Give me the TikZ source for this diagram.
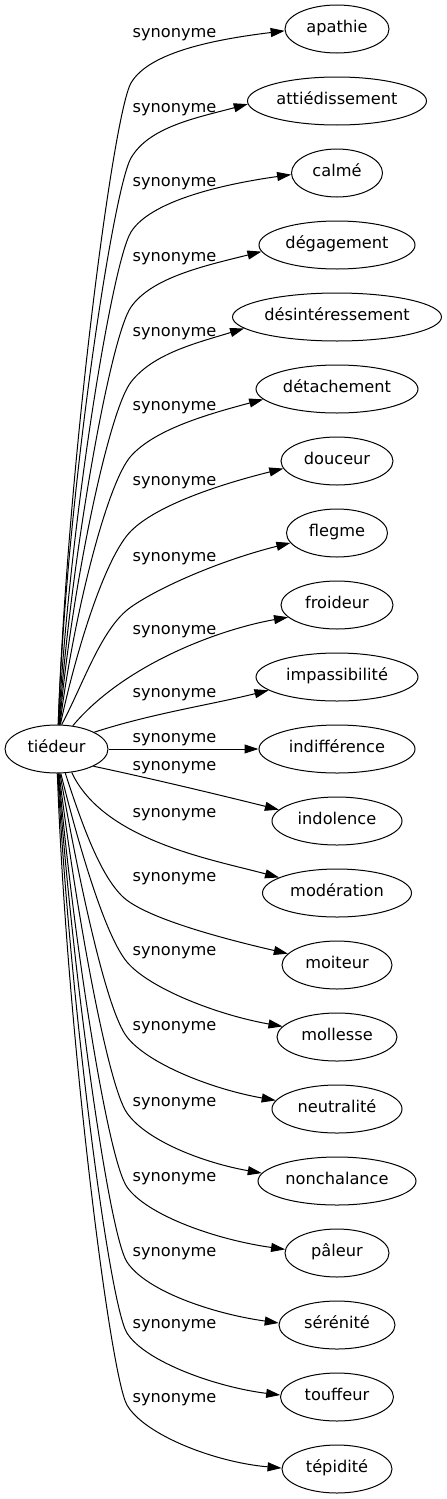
\documentclass[tikz,border=0pt]{standalone}
\usepackage{fontspec}
\setmainfont{DejaVu Sans}
\usetikzlibrary{arrows.meta,shapes.geometric}
\tikzset{
  word/.style={ellipse, draw, line width=1pt, inner sep=0pt, minimum height=48pt,
    font=\fontsize{16.2}{19}\selectfont, text height=0.9em, text depth=0.16em},
  lab/.style={font=\fontsize{16.2}{19}\selectfont, inner sep=0pt, anchor=base},
  edge/.style={line width=1pt, -{Triangle[length=14pt,width=9pt]}}
}
% #1 start anchor, #2 start dir, #3 label y, #4 knee dir, #5 target, #6 end anchor, #7 arrival dir, #8 end handle
\newcommand\UpEdge[8]{%
  \pgfmathsetmacro\PyA{-(#3+50)}%
  \pgfmathsetmacro\dA{0.4*(674-#3)}%
  \draw[edge] (t.#1) .. controls +(#2:\dA) and +(#4+180:36) .. (131,\PyA)
     .. controls +(#4:36) and +(#7+180:#8) .. (#5.#6);}
% #3 knee y (pixel), knee x fixed
\newcommand\DnEdge[8]{%
  \pgfmathsetmacro\PyA{-#3}%
  \pgfmathsetmacro\dA{0.4*(#3-773)}%
  \draw[edge] (t.#1) .. controls +(#2:\dA) and +(#4+180:34) .. (127,\PyA)
     .. controls +(#4:34) and +(#7+180:#8) .. (#5.#6);}
\begin{document}
\begin{tikzpicture}[x=1pt,y=1pt]
\useasboundingbox (0,0) rectangle (447,-1499);
\node[word, minimum width=103pt] (t) at (56.5,-749) {tiédeur};
\node[word, minimum width=104pt] (apa) at (337,-29) {apathie};
\node[word, minimum width=179pt] (att) at (337,-101) {attiédissement};
\node[word, minimum width=91pt] (cal) at (337,-173) {calmé};
\node[word, minimum width=156pt] (deg) at (337,-245) {dégagement};
\node[word, minimum width=209pt] (des) at (337,-317) {désintéressement};
\node[word, minimum width=162pt] (det) at (337,-389) {détachement};
\node[word, minimum width=112pt] (dou) at (337,-461) {douceur};
\node[word, minimum width=101pt] (fle) at (337,-533) {flegme};
\node[word, minimum width=112pt] (fro) at (337,-605) {froideur};
\node[word, minimum width=162pt] (imp) at (337,-677) {impassibilité};
\node[word, minimum width=156pt] (ind) at (337,-749) {indifférence};
\node[word, minimum width=130pt] (indo) at (337,-821) {indolence};
\node[word, minimum width=149pt] (mod) at (337,-893) {modération};
\node[word, minimum width=110pt] (moi) at (337,-965) {moiteur};
\node[word, minimum width=120pt] (mol) at (337,-1037) {mollesse};
\node[word, minimum width=130pt] (neu) at (337,-1109) {neutralité};
\node[word, minimum width=158pt] (non) at (337,-1181) {nonchalance};
\node[word, minimum width=104pt] (pal) at (337,-1253) {pâleur};
\node[word, minimum width=116pt] (ser) at (337,-1325) {sérénité};
\node[word, minimum width=113pt] (tou) at (337,-1397) {touffeur};
\node[word, minimum width=110pt] (tep) at (337,-1469) {tépidité};
% labels
\node[lab] (l1) at (174.5,-37.8) {synonyme};
\node[lab] (l2) at (174.5,-112.8) {synonyme};
\node[lab] (l3) at (174.5,-186.8) {synonyme};
\node[lab] (l4) at (174.5,-261.8) {synonyme};
\node[lab] (l5) at (174.5,-336.8) {synonyme};
\node[lab] (l6) at (174.5,-410.8) {synonyme};
\node[lab] (l7) at (174.5,-485.8) {synonyme};
\node[lab] (l8) at (174.5,-561.8) {synonyme};
\node[lab] (l9) at (174.5,-634.8) {synonyme};
\node[lab] (l10) at (174.5,-697.8) {synonyme};
\node[lab] (l11) at (174.5,-742.8) {synonyme};
\node[lab] (l12) at (174.5,-770.8) {synonyme};
\node[lab] (l13) at (174.5,-817.8) {synonyme};
\node[lab] (l14) at (174.5,-881.8) {synonyme};
\node[lab] (l15) at (174.5,-955.8) {synonyme};
\node[lab] (l16) at (174.5,-1030.8) {synonyme};
\node[lab] (l17) at (174.5,-1106.8) {synonyme};
\node[lab] (l18) at (174.5,-1181.8) {synonyme};
\node[lab] (l19) at (174.5,-1256.8) {synonyme};
\node[lab] (l20) at (174.5,-1328.8) {synonyme};
\node[lab] (l21) at (174.5,-1402.8) {synonyme};
% edges
\UpEdge{86}{88}{33}{60}{apa}{182}{7}{69}
\UpEdge{86}{88}{108}{60}{att}{182.6}{15}{53}
\UpEdge{85}{87}{182}{58}{cal}{182.5}{8}{72}
\UpEdge{84}{86}{257}{55}{deg}{185}{14}{59}
\UpEdge{83}{85}{332}{52}{des}{187}{17}{51}
\UpEdge{82}{83}{406}{48}{det}{188.5}{15}{58}
\UpEdge{81}{78}{481}{45}{dou}{188.5}{14}{68}
\UpEdge{78}{62}{557}{35}{fle}{192}{14}{70}
\draw[edge] (t.55) .. controls +(50:80) and +(190:70) .. (fro.194);
\draw[edge] (t.24) .. controls +(18:60) and +(194:60) .. (imp.191);
\draw[edge] (t.east) -- (ind.west);
\draw[edge] (t.335) .. controls +(-12:60) and +(166:60) .. (indo.169);
\draw[edge] (t.303) .. controls +(-65:75) and +(165:70) .. (mod.165.5);
\draw[edge] (t.290) .. controls +(-72:60) and +(135:30) .. (122,-896)
   .. controls +(-45:30) and +(167:70) .. (moi.167);
\DnEdge{280}{-76}{962}{-50}{mol}{169.6}{-10}{67}
\DnEdge{278}{-80}{1037}{-52}{neu}{172.6}{-10}{65}
\DnEdge{276}{-83}{1113}{-55}{non}{174}{-10}{59}
\DnEdge{275}{-85}{1187}{-55}{pal}{176.7}{-8}{71}
\DnEdge{274}{-86}{1262}{-57}{ser}{178}{-8}{68}
\DnEdge{273}{-87}{1333}{-58}{tou}{178.3}{-7}{64}
\DnEdge{272}{-88}{1405}{-60}{tep}{179}{-5}{68}
\end{tikzpicture}
\end{document}
